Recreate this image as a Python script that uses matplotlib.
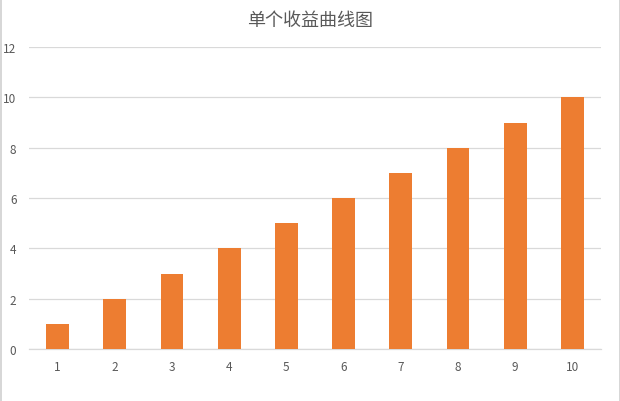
import matplotlib.pyplot as plt
from matplotlib.lines import Line2D
import numpy as np

plt.rcParams['font.family'] = ['Noto Sans CJK SC', 'DejaVu Sans']

# chart data
categories = ['1', '2', '3', '4', '5', '6', '7', '8', '9', '10']
values = [1, 2, 3, 4, 5, 6, 7, 8, 9, 10]
y_ticks = [0, 2, 4, 6, 8, 10, 12]
title = '单个收益曲线图'

bar_color = '#ED7D31'
text_color = '#595959'
grid_color = '#D9D9D9'

fig = plt.figure(figsize=(6.2, 4.02), dpi=100)
fig.patch.set_facecolor('white')

# thin gray frame on the left and right edges only
fig.add_artist(Line2D([0.5 / 620, 0.5 / 620], [0, 1], color='#D0D0D0', linewidth=1.2))
fig.add_artist(Line2D([1 - 0.5 / 620, 1 - 0.5 / 620], [0, 1], color='#D0D0D0', linewidth=1.2))

ax = fig.add_axes([29 / 620, 1 - 350 / 402, (601 - 29) / 620, (350 - 48) / 402])

x = np.arange(len(categories))
ax.bar(x, values, width=0.4, color=bar_color, zorder=3)

ax.set_xlim(-0.5, len(categories) - 0.5)
ax.set_ylim(0, 12)
ax.set_xticks(x)
ax.set_xticklabels(categories)
ax.set_yticks(y_ticks)
ax.set_yticklabels([str(t) for t in y_ticks])

ax.tick_params(axis='both', length=0, colors=text_color, labelsize=8.5)
ax.tick_params(axis='y', pad=9)
ax.tick_params(axis='x', pad=8)

ax.grid(axis='y', color=grid_color, linewidth=0.9, zorder=0)
for side in ['top', 'right', 'left']:
    ax.spines[side].set_visible(False)
ax.spines['bottom'].set_color(grid_color)
ax.spines['bottom'].set_linewidth(0.9)

fig.text(0.5, 1 - 21 / 402, title, ha='center', va='center',
         fontsize=13, color=text_color)

fig.savefig('out.png', dpi=100, facecolor=fig.get_facecolor())
